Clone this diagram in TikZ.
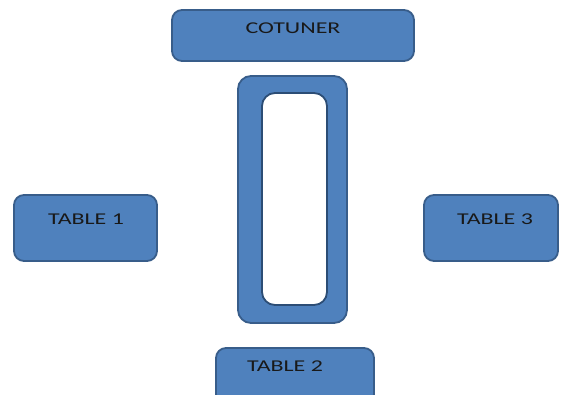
\documentclass[tikz,border=0pt]{standalone}
\usepackage{fontspec}
\setmainfont{Carlito}
\definecolor{boxfill}{HTML}{4F81BD}
\definecolor{boxline}{HTML}{385D8A}
\definecolor{innerline}{HTML}{2C4D75}
\begin{document}
\begin{tikzpicture}[x=1pt,y=-1pt,
  panel/.style={draw=boxline, fill=boxfill, line width=1.8pt, rounded corners=10pt},
  label/.style={font=\fontsize{16.5}{18}\selectfont, text=black!90, inner sep=0pt}]
  \useasboundingbox (0,0) rectangle (564,394);
  \fill[white] (0,0) rectangle (564,394);
  % counter at the top
  \draw[panel] (172,10) rectangle (414,61);
  \node[label] (cotuner) at (293,28) {\scalebox{1.45}[1]{COTUNER}};
  % central bar with its opening
  \draw[panel, rounded corners=13pt] (238,76) rectangle (347,323);
  \draw[draw=innerline, fill=white, line width=1.8pt, rounded corners=13pt] (262,93) rectangle (327,305);
  % tables
  \draw[panel] (14,195) rectangle (157,261);
  \node[label] (t1) at (86,219) {\scalebox{1.45}[1]{TABLE 1}};
  \draw[panel] (424,195) rectangle (558,261);
  \node[label] (t3) at (495,219) {\scalebox{1.45}[1]{TABLE 3}};
  \draw[panel] (216,348) rectangle (374,404);
  \node[label] (t2) at (285,366) {\scalebox{1.45}[1]{TABLE 2}};
\end{tikzpicture}
\end{document}
